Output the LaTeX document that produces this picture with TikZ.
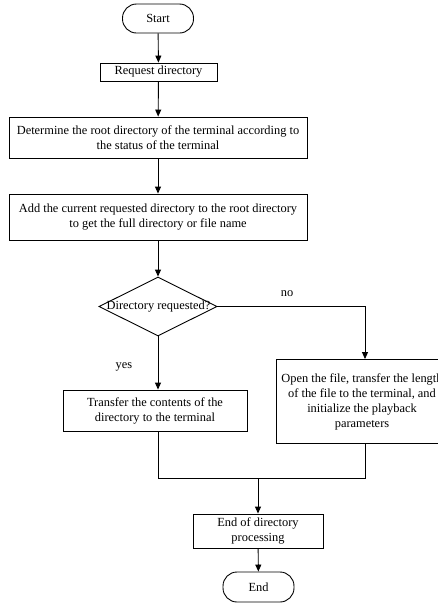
\documentclass[tikz,border=0pt]{standalone}
\usepackage{fontspec}
\setmainfont{Liberation Serif}
\usetikzlibrary{shapes.geometric,arrows.meta}
\begin{document}
\begin{tikzpicture}[x=1pt,y=-1pt,
  every node/.style={font=\fontsize{12.4}{15}\selectfont, inner sep=0pt},
  box/.style={draw, line width=0.9pt, align=center},
  term/.style={draw, line width=0.9pt, rounded corners=14pt},
  conn/.style={line width=0.9pt},
  arr/.style={conn, -{Triangle[length=7pt,width=6pt]}}]
\useasboundingbox (0,0) rectangle (438,603);
\clip (0,0) rectangle (438,603);
\fill[white] (0,0) rectangle (438,603);
\node[term, minimum width=71pt, minimum height=29pt] (start) at (158,18.5) {Start};
\node[box, minimum width=117pt, minimum height=18pt] (req) at (158.5,72) {Request directory};
\node[box, minimum width=298pt, minimum height=41pt] (root) at (158,137.5) {Determine the root directory of the terminal according to\\the status of the terminal};
\node[box, minimum width=298pt, minimum height=46pt] (add) at (158,217) {Add the current requested directory to the root directory\\to get the full directory or file name};
\node[draw, line width=0.9pt, diamond, minimum width=118pt, minimum height=59pt] (dec) at (158,306.5) {};
\node (dectext) at (158.5,306.5) {Directory requested?};
\node (no) at (287,294) {no};
\node (yes) at (124,367) {yes};
\node[box, minimum width=184pt, minimum height=41pt] (left) at (155,410.5) {Transfer the contents of the\\directory to the terminal};
\node[box, minimum width=172pt, minimum height=84pt] (right) at (362,401.5) {Open the file, transfer the length\\of the file to the terminal, and\\initialize the playback\\parameters};
\node[box, minimum width=130pt, minimum height=34pt] (endbox) at (258,531) {End of directory\\processing};
\node[term, minimum width=71pt, minimum height=30pt] (end) at (258.5,587) {End};
\coordinate (j) at (258,478);
\coordinate (rin) at ([xshift=3pt]right.north);
\coordinate (rout) at ([xshift=3pt]right.south);
\draw[arr] (start) -- (req);
\draw[arr] (req) -- (root);
\draw[arr] (root) -- (add);
\draw[arr] (add) -- (dec);
\draw[arr] (dec.south) -- (dec.south |- left.north);
\draw[arr] (dec.east) -| (rin);
\draw[conn] (dec.south |- left.south) -- (dec.south |- j) -- (rout |- j) -- (rout);
\draw[arr] (j) -- (endbox);
\draw[arr] (endbox) -- (end);
\end{tikzpicture}
\end{document}
